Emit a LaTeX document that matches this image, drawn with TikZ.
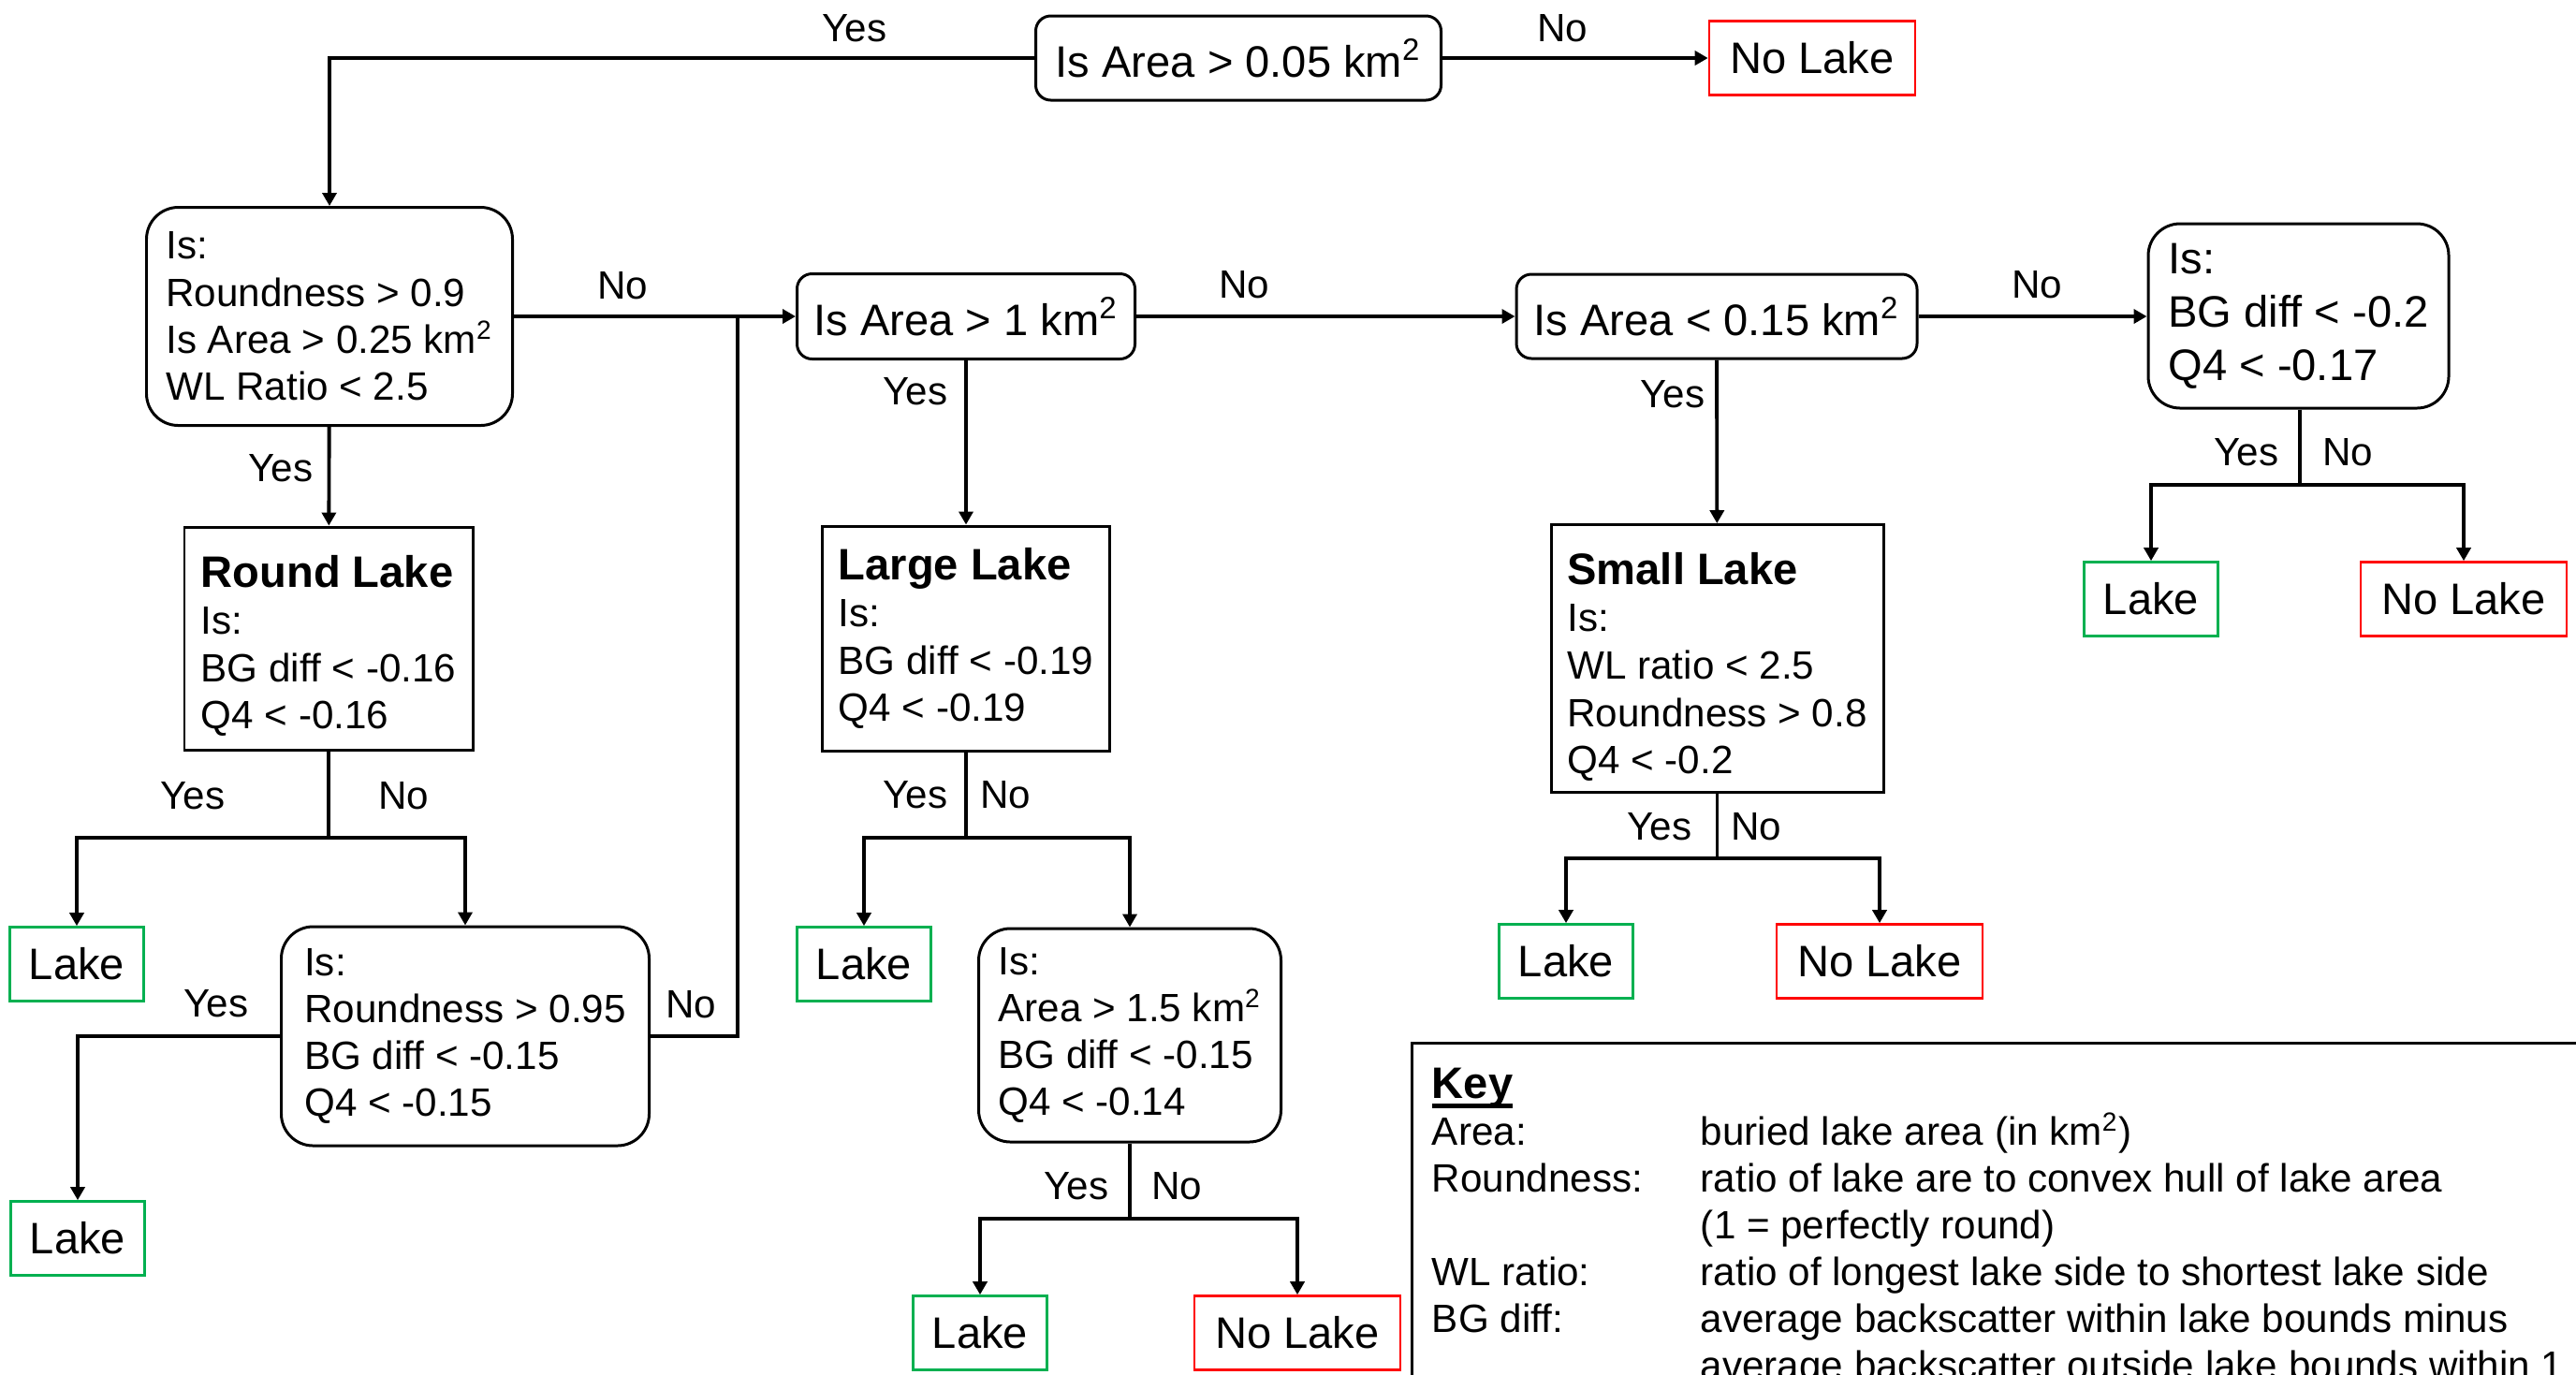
\documentclass[tikz,border=0pt]{standalone}
\usepackage{fontspec}
\setmainfont{Liberation Sans}
\usetikzlibrary{arrows.meta}
\usetikzlibrary{positioning}
\definecolor{lakegreen}{RGB}{0,176,80}
\definecolor{nolakered}{RGB}{255,0,0}
\newcommand{\head}[1]{{\bfseries\fontsize{13.4}{14.3}\selectfont #1}}
\newcommand{\thickul}[1]{\setbox0=\hbox{#1}\leavevmode\rlap{\rule[-1.0mm]{\wd0}{0.5mm}}\box0}
\tikzset{
    cond/.style = {draw, rounded corners=1.6mm, line width=0.85pt,
                 font=\fontsize{13.4}{16}\selectfont, align=center},
    multi/.style = {draw, rounded corners=3.4mm, line width=0.85pt, inner xsep=1mm,
                 font=\fontsize{12}{14.3}\selectfont, align=left},
    lakebox/.style = {draw, line width=0.85pt, inner xsep=1mm,
                 font=\fontsize{12}{14.3}\selectfont, align=left},
    leaf/.style = {draw=lakegreen, line width=0.75pt, minimum width=14.3mm,
                 minimum height=7.9mm, font=\fontsize{13.4}{16}\selectfont},
    noleaf/.style = {leaf, draw=nolakered, minimum width=22mm},
    lbl/.style = {font=\fontsize{12}{14.3}\selectfont, inner sep=0pt},
}

\begin{document}
\begin{tikzpicture}[>={Triangle[length=1.4mm,width=1.5mm]}, line width=1.1pt]
\useasboundingbox (0,0) rectangle (27.52,-14.68);
\clip (0,0) rectangle (27.52,-14.68);

\node (root) [cond, minimum width=43.3mm, minimum height=9mm] at (13.23,-0.62) {Is Area > 0.05 km\textsuperscript{2}};
\node (nolake0) [noleaf] at (19.36,-0.62) {No Lake};

\node (round) [multi, minimum width=39.1mm, minimum height=23.3mm] at (3.52,-3.38)
 {Is:\\ Roundness > 0.9\\ Is Area > 0.25 km\textsuperscript{2}\\ WL Ratio < 2.5};
\node (roundlake) [lakebox, minimum width=30.8mm, minimum height=23.8mm] at (3.51,-6.82)
 {\head{\rule{0pt}{5mm}Round Lake}\\ Is:\\ BG diff < -0.16\\ Q4 < -0.16};
\node (lake1) [leaf] at (0.82,-10.30) {Lake};
\node (round2) [multi, minimum width=39.3mm, minimum height=23.4mm] at (4.97,-11.07)
 {Is:\\ Roundness > 0.95\\ BG diff < -0.15\\ Q4 < -0.15};
\node (lake2) [leaf] at (0.83,-13.23) {Lake};

\node (big) [cond, minimum width=36.1mm, minimum height=9.1mm] at (10.32,-3.38) {Is Area > 1 km\textsuperscript{2}};
\node (biglake) [lakebox, minimum width=30.7mm, minimum height=24mm] at (10.32,-6.82)
 {\head{Large Lake}\\ Is:\\ BG diff < -0.19\\ Q4 < -0.19};
\node (lake3) [leaf] at (9.23,-10.30) {Lake};
\node (big2) [multi, minimum width=32.3mm, minimum height=22.8mm] at (12.07,-11.06)
 {Is:\\ Area > 1.5 km\textsuperscript{2}\\ BG diff < -0.15\\ Q4 < -0.14};
\node (lake4) [leaf] at (10.47,-14.24) {Lake};
\node (nolake4) [noleaf] at (13.86,-14.24) {No Lake};

\node (small) [cond, minimum width=42.8mm, minimum height=9mm] at (18.34,-3.38) {Is Area < 0.15 km\textsuperscript{2}};
\node (smalllake) [lakebox, minimum width=35.5mm, minimum height=28.3mm,
                   font=\fontsize{12}{14.4}\selectfont] at (18.345,-7.035)
 {\head{\rule{0pt}{5.2mm}Small Lake}\\ Is:\\ WL ratio < 2.5\\ Roundness > 0.8\\ Q4 < -0.2};
\node (lake5) [leaf] at (16.73,-10.27) {Lake};
\node (nolake5) [noleaf] at (20.08,-10.27) {No Lake};

\node (rest) [multi, minimum width=32.1mm, minimum height=19.7mm,
              font=\fontsize{13.4}{16.2}\selectfont] at (24.555,-3.375)
 {Is:\\ BG diff < -0.2\\ Q4 < -0.17};
\node (lake6) [leaf] at (22.98,-6.40) {Lake};
\node (nolake6) [noleaf] at (26.32,-6.40) {No Lake};

% yes / no labels
\node (y0) [lbl] at (9.13,-0.30) {Yes};
\node (n0) [lbl] at (16.69,-0.30) {No};
\node (n1) [lbl] at (6.65,-3.05) {No};
\node (y1) [lbl] at (3.00,-5.00) {Yes};
\node (y2) [lbl] at (2.06,-8.50) {Yes};
\node (n2) [lbl] at (4.31,-8.50) {No};
\node (y3) [lbl] at (2.31,-10.72) {Yes};
\node (n3) [lbl] at (7.38,-10.73) {No};
\node (y4) [lbl] at (9.78,-4.18) {Yes};
\node (n4) [lbl] at (13.29,-3.04) {No};
\node (y5) [lbl] at (9.78,-8.49) {Yes};
\node (n5) [lbl] at (10.74,-8.49) {No};
\node (y6) [lbl] at (11.50,-12.67) {Yes};
\node (n6) [lbl] at (12.57,-12.67) {No};
\node (y7) [lbl] at (17.87,-4.21) {Yes};
\node (n7) [lbl] at (21.76,-3.04) {No};
\node (y8) [lbl] at (17.73,-8.83) {Yes};
\node (n8) [lbl] at (18.76,-8.83) {No};
\node (y9) [lbl] at (24.00,-4.83) {Yes};
\node (n9) [lbl] at (25.08,-4.83) {No};

\coordinate (jround) at (7.88,-3.38);
\coordinate (jrl) at (3.51,-8.95);
\coordinate (jbl) at (10.32,-8.95);
\coordinate (jb2) at (12.07,-13.02);
\coordinate (jsl) at (18.345,-9.17);
\coordinate (jrest) at (24.57,-5.18);

\draw[->] (root.west) -| (round.north);
\draw[->] (root) to (nolake0);
\draw[->] (round.east) -- (big.west);
\draw[->] (round) to (roundlake);
\draw (roundlake) -- (jrl);
\draw[->] (jrl) -| (lake1.north);
\draw[->] (jrl) -| (round2.north);
\draw[->] (round2.west) -| (lake2.north);
\draw (round2.east) -| (jround);
\draw[->] (big) to (biglake);
\draw (biglake) -- (jbl);
\draw[->] (jbl) -| (lake3.north);
\draw[->] (jbl) -| (big2.north);
\draw (big2) -- (jb2);
\draw[->] (jb2) -| (lake4.north);
\draw[->] (jb2) -| (nolake4.north);
\draw[->] (big.east) -- (small.west);
\draw[->] (small) to (smalllake);
\draw (smalllake) -- (jsl);
\draw[->] (jsl) -| (lake5.north);
\draw[->] (jsl) -| (nolake5.north);
\draw[->] (small.east) -- (small.east -| rest.west);
\draw (rest.south -| jrest) -- (jrest);
\draw[->] (jrest) -| (lake6.north);
\draw[->] (jrest) -| (nolake6.north);

% key
\draw[line width=0.85pt] (15.08,-11.14) rectangle (28,-15);
\node (keytab) [anchor=north west, inner sep=0pt, font=\fontsize{12}{14.2}\selectfont] at (15.28,-11.37)
 {\begin{tabular}{@{}p{2.87cm}@{}l@{}}
  \thickul{\fontsize{13.4}{14.2}\selectfont\bfseries Key} & \\
  Area: & buried lake area (in km\textsuperscript{2})\\
  Roundness: & ratio of lake are to convex hull of lake area\\
  & (1 = perfectly round)\\
  WL ratio: & ratio of longest lake side to shortest lake side\\
  BG diff: & average backscatter within lake bounds minus\\
  & average backscatter outside lake bounds within 1
 \end{tabular}};
\end{tikzpicture}
\end{document}
